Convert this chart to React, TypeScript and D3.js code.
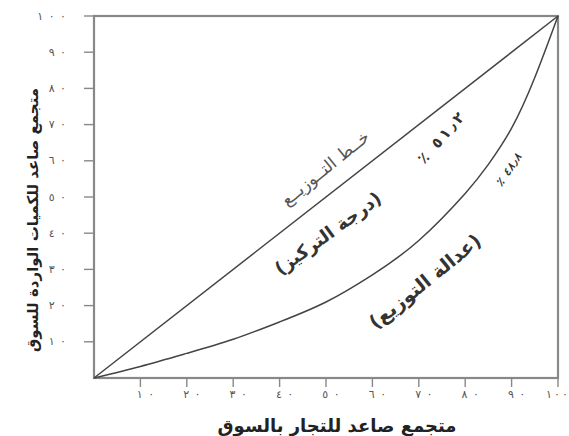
import React from 'react';
import * as d3 from 'd3';

// Lorenz curve (cumulative % traders vs cumulative % quantities)
const lorenzX = [0, 10, 20, 30, 40, 50, 60, 70, 80, 85, 90, 95, 100];
const lorenzY = [0, 3.2, 6.8, 10.7, 15.5, 21, 28.5, 38, 51, 59, 69, 83, 100];
const equalityX = [0, 100];
const equalityY = [0, 100];

const tickValues = [10, 20, 30, 40, 50, 60, 70, 80, 90, 100];
const tickLabels = ['١٠', '٢٠', '٣٠', '٤٠', '٥٠', '٦٠', '٧٠', '٨٠', '٩٠', '١٠٠'];

const xTitle = 'متجمع صاعد للتجار بالسوق';
const yTitle = 'متجمع صاعد للكميات الواردة للسوق';
const lineLabel = 'خــط التــوزيــع';
const concentrationLabel = '(درجة التركيز)';
const fairnessLabel = '(عدالة التوزيع)';
const concentrationValue = '٪ ٥١٫٢';
const fairnessValue = '٪ ٤٨٫٨';

const W = 569;
const H = 436;
const FONT = '"DejaVu Sans", sans-serif';

// the scan prints digits spread apart; letter-spacing is ignored for Arabic script
const spread = (s: string, gap = '\u2009') => Array.from(s).join(gap);

export default function App() {
  const x = d3.scaleLinear().domain([0, 100]).range([94, 558]);
  const y = d3.scaleLinear().domain([0, 100]).range([378, 16]);

  const lorenz = d3
    .line<[number, number]>()
    .x((d) => x(d[0]))
    .y((d) => y(d[1]))
    .curve(d3.curveNatural)(lorenzX.map((v, i) => [v, lorenzY[i]] as [number, number]));
  const equality = d3
    .line<[number, number]>()
    .x((d) => x(d[0]))
    .y((d) => y(d[1]))(equalityX.map((v, i) => [v, equalityY[i]] as [number, number]));

  const [x0, x1] = x.range();
  const [y0, y1] = y.range();

  const ltr: React.CSSProperties = { unicodeBidi: 'bidi-override', direction: 'ltr' };

  const label = (
    text: string,
    dx: number,
    dy: number,
    angle: number,
    size: number,
    weight: string,
    extra: React.SVGProps<SVGTextElement> = {}
  ) => (
    <text
      x={x(dx)}
      y={y(dy)}
      transform={`rotate(${angle},${x(dx)},${y(dy)})`}
      textAnchor="middle"
      dominantBaseline="central"
      fontFamily={FONT}
      fontSize={size}
      fontWeight={weight}
      fill="#333"
      {...extra}
    >
      {text}
    </text>
  );

  return (
    <svg
      width={W}
      height={H}
      style={{ position: 'absolute', left: 0, top: 0, background: '#fff' }}
    >
      {/* frame */}
      <rect
        x={x0}
        y={y1}
        width={x1 - x0}
        height={y0 - y1}
        fill="none"
        stroke="#888"
        strokeWidth={2.2}
      />

      {/* y ticks */}
      {tickValues.map((v, i) => (
        <g key={`y${v}`}>
          <line x1={x0 - 10} x2={x0} y1={y(v)} y2={y(v)} stroke="#888" strokeWidth={1.4} />
          <text
            x={x0 - 28}
            y={y(v)}
            textAnchor="end"
            dominantBaseline="central"
            fontFamily={FONT}
            fontSize={11}
            fill="#555"
            style={ltr}
          >
            {spread(tickLabels[i], '\u2002')}
          </text>
        </g>
      ))}

      {/* x ticks */}
      {tickValues.map((v, i) => {
        const last = i === tickValues.length - 1;
        return (
          <g key={`x${v}`}>
            <line x1={x(v)} x2={x(v)} y1={y0} y2={y0 + 9} stroke="#888" strokeWidth={1.4} />
            <text
              x={last ? W - 1 : x(v) + 5}
              y={y0 + 16}
              textAnchor={last ? 'end' : 'middle'}
              dominantBaseline="central"
              fontFamily={FONT}
              fontSize={11}
              fill="#555"
              style={ltr}
            >
              {spread(tickLabels[i], last ? '\u2009' : '\u2002')}
            </text>
          </g>
        );
      })}

      {/* equality line and Lorenz curve */}
      <path d={equality ?? ''} fill="none" stroke="#444" strokeWidth={1.5} />
      <path d={lorenz ?? ''} fill="none" stroke="#444" strokeWidth={1.5} />

      {/* annotations */}
      {label(lineLabel, 49.8, 58, -39, 17, 'normal', { fill: '#555' })}
      {label(concentrationLabel, 50.4, 40, -36, 18, 'bold')}
      {label(fairnessLabel, 71.3, 26.8, -39, 19, 'bold')}
      {label(spread(concentrationValue, '\u2009'), 74.8, 66.3, -49, 15, 'bold', { style: ltr })}
      {label(spread(fairnessValue, '\u200A'), 89.4, 57.5, -56, 11, 'bold', {
        fontStyle: 'italic',
        style: ltr,
      })}

      {/* axis titles */}
      <text
        x={337}
        y={425}
        textAnchor="middle"
        dominantBaseline="central"
        fontFamily={FONT}
        fontSize={18}
        fontWeight="bold"
        fill="#222"
      >
        {xTitle}
      </text>
      <text
        transform={`translate(33,${(y0 + y1) / 2 + 23}) rotate(-90)`}
        textAnchor="middle"
        dominantBaseline="central"
        fontFamily={FONT}
        fontSize={15}
        fontWeight="bold"
        fill="#222"
      >
        {yTitle}
      </text>
    </svg>
  );
}
